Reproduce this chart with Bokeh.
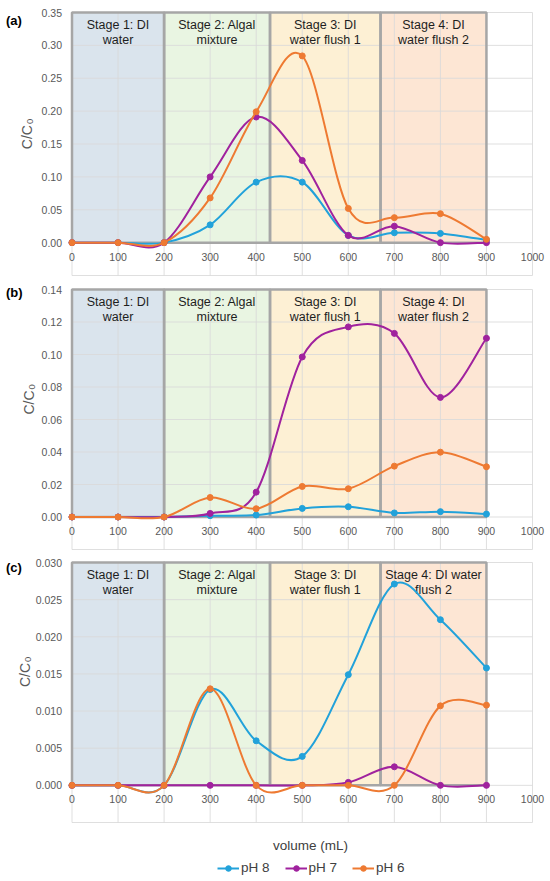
import math
from bokeh.plotting import figure
from bokeh.layouts import column
from bokeh.models import Range1d, Legend, LegendItem
from bokeh.core.properties import value
from bokeh.embed import file_html
from bokeh.resources import INLINE

# ---------------- data ----------------
volume = [0, 100, 200, 300, 400, 500, 600, 700, 800, 900]
x_ticks = [0, 100, 200, 300, 400, 500, 600, 700, 800, 900, 1000]
x_tick_labels = ["0", "100", "200", "300", "400", "500", "600", "700", "800", "900", "1000"]

series_names = ["pH 8", "pH 7", "pH 6"]
series_colors = ["#22A2DA", "#A0229E", "#EE7A32"]

ph8_a = [0, 0, 0, 0.027, 0.092, 0.092, 0.011, 0.015, 0.014, 0.004]
ph7_a = [0, 0, 0, 0.100, 0.191, 0.125, 0.011, 0.025, 0.000, 0.000]
ph6_a = [0, 0, 0, 0.068, 0.199, 0.284, 0.052, 0.038, 0.044, 0.005]

ph8_b = [0, 0, 0, 0.0008, 0.0012, 0.0053, 0.0063, 0.0025, 0.0033, 0.0018]
ph7_b = [0, 0, 0, 0.0022, 0.0153, 0.0985, 0.117, 0.113, 0.0736, 0.110]
ph6_b = [0, 0, 0, 0.0120, 0.0051, 0.0188, 0.0174, 0.0313, 0.0399, 0.0309]

ph8_c = [0, 0, 0, 0.0129, 0.0060, 0.0039, 0.0149, 0.0271, 0.0223, 0.0158]
ph7_c = [0, 0, 0, 0, 0, 0, 0.0004, 0.0025, 0, 0]
ph6_c = [0, 0, 0, 0.0130, 0, 0, 0, 0, 0.0107, 0.0108]

stage_start = [0, 200, 430, 670]
stage_end = [200, 430, 670, 900]
stage_colors = ["#DAE4ED", "#E9F5E2", "#FDF0D4", "#FDE6D4"]
stage_line1_ab = ["Stage 1: DI", "Stage 2: Algal", "Stage 3: DI", "Stage 4: DI"]
stage_line2_ab = ["water", "mixture", "water flush 1", "water flush 2"]
stage_line1_c = ["Stage 1: DI", "Stage 2: Algal", "Stage 3: DI", "Stage 4: DI water"]
stage_line2_c = ["water", "mixture", "water flush 1", "flush 2"]

yticks_a = [0.00, 0.05, 0.10, 0.15, 0.20, 0.25, 0.30, 0.35]
ylabels_a = ["0.00", "0.05", "0.10", "0.15", "0.20", "0.25", "0.30", "0.35"]
ygrid_a = [-0.05] + yticks_a
yticks_b = [0.00, 0.02, 0.04, 0.06, 0.08, 0.10, 0.12, 0.14]
ylabels_b = ["0.00", "0.02", "0.04", "0.06", "0.08", "0.10", "0.12", "0.14"]
ygrid_b = [-0.02] + yticks_b
yticks_c = [0.000, 0.005, 0.010, 0.015, 0.020, 0.025, 0.030]
ylabels_c = ["0.000", "0.005", "0.010", "0.015", "0.020", "0.025", "0.030"]
ygrid_c = [-0.005] + yticks_c

FONT = "Liberation Sans"
FONT_V = value(FONT)
TXT = "#595959"
TXT_DARK = "#404040"
XPX = 0.4605          # pixels per mL
X0_PAGE = 71.5        # page x of volume 0


def px_to_x(page_x):
    return (page_x - X0_PAGE) / XPX


def smooth(xs, ys):
    n = len(xs)
    out = dict(x0=[], y0=[], x1=[], y1=[], cx0=[], cy0=[], cx1=[], cy1=[])
    for i in range(n - 1):
        a = i - 1 if i > 0 else i
        d = i + 2 if i + 2 < n else i + 1
        out["x0"].append(xs[i]); out["y0"].append(ys[i])
        out["x1"].append(xs[i + 1]); out["y1"].append(ys[i + 1])
        out["cx0"].append(xs[i] + (xs[i + 1] - xs[a]) / 6.0)
        out["cy0"].append(ys[i] + (ys[i + 1] - ys[a]) / 6.0)
        out["cx1"].append(xs[i + 1] - (xs[d] - xs[i]) / 6.0)
        out["cy1"].append(ys[i + 1] - (ys[d] - ys[i]) / 6.0)
    return out


def panel(series, yticks, ylabels, ygrid, tag, line1, line2, data_h, fig_h,
          top_gap, cc_px, cc_y, tag_dy):
    span = ygrid[-1] - ygrid[0]
    scale = data_h / span
    ymax = ygrid[-1] + top_gap / scale
    ymin = ymax - fig_h / scale
    top = yticks[-1]
    p = figure(width=550, height=fig_h,
               x_range=Range1d(px_to_x(0), px_to_x(550)),
               y_range=Range1d(ymin, ymax),
               x_axis_location=None, y_axis_location=None,
               toolbar_location=None, output_backend="svg",
               min_border=0)
    p.outline_line_color = None
    p.xgrid.visible = False
    p.ygrid.visible = False
    p.background_fill_color = "white"
    p.border_fill_color = "white"

    # stage fills
    p.quad(left=stage_start, right=stage_end, bottom=0, top=top,
           fill_color=stage_colors, line_color=None)
    # gridlines
    p.segment(x0=[0] * len(ygrid), x1=[1000] * len(ygrid), y0=ygrid, y1=ygrid,
              line_color="#D9D9D9", line_width=1, line_alpha=0.85)
    p.segment(x0=x_ticks, x1=x_ticks, y0=[ygrid[0]] * len(x_ticks),
              y1=[ygrid[-1]] * len(x_ticks),
              line_color="#D9D9D9", line_width=1, line_alpha=0.85)
    # stage borders
    p.quad(left=stage_start, right=stage_end, bottom=0, top=top,
           fill_color=None, line_color="#A6A6A6", line_width=2.5)

    # x tick labels (on the zero line, as in the source chart)
    p.text(x=x_ticks, y=[0] * len(x_ticks), text=x_tick_labels,
           y_offset=14, text_align="center", text_baseline="middle",
           text_font=FONT_V, text_font_size="10.5px", text_color=TXT)
    # y tick labels
    p.text(x=[0] * len(yticks), y=yticks, text=ylabels, x_offset=-10,
           text_align="right", text_baseline="middle",
           text_font=FONT_V, text_font_size="10.5px", text_color=TXT)

    # stage labels
    centers = [(s + e) / 2 for s, e in zip(stage_start, stage_end)]
    p.text(x=centers, y=[top] * 4, text=line1, y_offset=12.5,
           text_align="center", text_baseline="middle",
           text_font=FONT_V, text_font_size="12.5px", text_color="#1E1E1E")
    p.text(x=centers, y=[top] * 4, text=line2, y_offset=27.5,
           text_align="center", text_baseline="middle",
           text_font=FONT_V, text_font_size="12.5px", text_color="#1E1E1E")

    items = []
    for name, color, ys in zip(series_names, series_colors, series):
        b = p.bezier(line_color=color, line_width=2, **smooth(volume, ys))
        s = p.scatter(volume, ys, size=6, fill_color=color, line_color=color)
        items.append(LegendItem(label=name, renderers=[b, s]))

    # panel tag
    p.text(x=[px_to_x(5.4)], y=[top], text=[tag], y_offset=tag_dy,
           text_align="left", text_baseline="middle",
           text_font=FONT_V, text_font_style="bold", text_font_size="13px",
           text_color="#000000")
    # y-axis title "C/C0" with subscript 0 (rotated, reading upwards)
    p.text(x=[px_to_x(cc_px)], y=[cc_y], text=["C/C"], angle=math.pi / 2,
           y_offset=-9.5, text_align="right", text_baseline="middle",
           text_font=FONT_V, text_font_size="14px", text_color=TXT)
    p.text(x=[px_to_x(cc_px)], y=[cc_y], text=["0"], angle=math.pi / 2,
           x_offset=3, y_offset=-10.5, text_align="left", text_baseline="middle",
           text_font=FONT_V, text_font_size="9.5px", text_color=TXT)
    return p, items


# page rows: (a) 0..282, (b) 282..555, (c) 555..881
pa, _ = panel([ph8_a, ph7_a, ph6_a], yticks_a, ylabels_a, ygrid_a, "(a)",
              stage_line1_ab, stage_line2_ab, 263, 282, 12,
              26.0, 0.1644, 8)
pb, _ = panel([ph8_b, ph7_b, ph6_b], yticks_b, ylabels_b, ygrid_b, "(b)",
              stage_line1_ab, stage_line2_ab, 260, 273, 7,
              28.0, 0.072, 2.7)
pc, items_c = panel([ph8_c, ph7_c, ph6_c], yticks_c, ylabels_c, ygrid_c, "(c)",
                    stage_line1_c, stage_line2_c, 260, 326, 7,
                    24.0, 0.0152, 5)

pc.text(x=[px_to_x(310)], y=[ygrid_c[0]], text=["volume (mL)"], y_offset=22.5,
        text_align="center", text_baseline="middle",
        text_font=FONT_V, text_font_size="13.5px", text_color=TXT_DARK)

legend = Legend(items=items_c, orientation="horizontal", location=(217, 6),
                padding=0, margin=0, spacing=15, glyph_width=22, glyph_height=14,
                label_height=14, label_standoff=2, border_line_color=None,
                background_fill_alpha=0, label_text_font=FONT,
                label_text_font_size="13.5px", label_text_color=TXT_DARK)
pc.add_layout(legend)

layout = column(pa, pb, pc, spacing=0)
open("out.html", "w").write(file_html(layout, INLINE))
